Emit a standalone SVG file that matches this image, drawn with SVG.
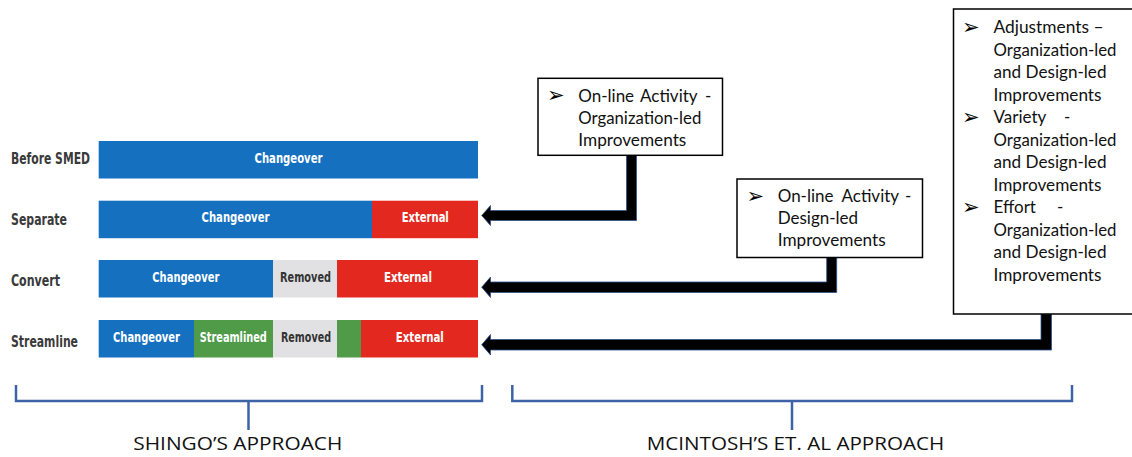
<svg xmlns="http://www.w3.org/2000/svg" width="1132" height="457" viewBox="0 0 1132 457">
<style>
.lbl{font-family:"Liberation Sans Narrow","DejaVu Sans Condensed","Liberation Sans",sans-serif;font-weight:bold;font-size:16px;fill:#3a3a3a;font-stretch:condensed}
.bt{font-family:"Liberation Sans Narrow","DejaVu Sans Condensed","Liberation Sans",sans-serif;font-weight:bold;font-size:14px;fill:#ffffff;text-anchor:middle;font-stretch:condensed}
.bt.dk{fill:#333333}
.blue{fill:#1570bf}
.red{fill:#e3291f}
.gray{fill:#e1e1e3}
.green{fill:#4f9b48}
.box{fill:#ffffff;stroke:#000000;stroke-width:1.5}
.tx{font-family:Lato,"Open Sans","Liberation Sans",sans-serif;font-size:17px;fill:#111111}
.bul{font-family:"DejaVu Sans",sans-serif;font-size:21px;fill:#000000}
.arr{fill:#000000;stroke:#2f528f;stroke-width:0.8;stroke-linejoin:miter}
.brk{fill:none;stroke:#3d63a6;stroke-width:2.5}
.cap{font-family:"Open Sans","Liberation Sans",sans-serif;font-size:18px;fill:#111111}
</style>

<g id="before-smed">
  <text class="lbl" x="11" y="164.3" textLength="79" lengthAdjust="spacingAndGlyphs">Before SMED</text>
  <rect class="blue" x="98.7" y="141" width="379.3" height="37.5"/>
  <text class="bt" x="288.5" y="162.7" textLength="68" lengthAdjust="spacingAndGlyphs">Changeover</text>
</g>

<g id="separate">
  <text class="lbl" x="11" y="225" textLength="56" lengthAdjust="spacingAndGlyphs">Separate</text>
  <rect class="blue" x="98.7" y="200.7" width="273.3" height="37.5"/>
  <rect class="red" x="372" y="200.7" width="106" height="37.5"/>
  <text class="bt" x="235.5" y="222.4" textLength="68" lengthAdjust="spacingAndGlyphs">Changeover</text>
  <text class="bt" x="425.3" y="222.4" textLength="47" lengthAdjust="spacingAndGlyphs">External</text>
</g>

<g id="convert">
  <text class="lbl" x="11" y="285.7" textLength="49" lengthAdjust="spacingAndGlyphs">Convert</text>
  <rect class="blue" x="98.7" y="260" width="174.3" height="37.5"/>
  <rect class="gray" x="273" y="260" width="64" height="37.5"/>
  <rect class="red" x="337" y="260" width="141" height="37.5"/>
  <text class="bt" x="185.8" y="281.7" textLength="67" lengthAdjust="spacingAndGlyphs">Changeover</text>
  <text class="bt dk" x="305.5" y="281.7" textLength="51" lengthAdjust="spacingAndGlyphs">Removed</text>
  <text class="bt" x="408" y="281.7" textLength="48" lengthAdjust="spacingAndGlyphs">External</text>
</g>

<g id="streamline">
  <text class="lbl" x="11" y="346.7" textLength="67" lengthAdjust="spacingAndGlyphs">Streamline</text>
  <rect class="blue" x="98.7" y="320" width="95.3" height="37.5"/>
  <rect class="green" x="194" y="320" width="79" height="37.5"/>
  <rect class="gray" x="273" y="320" width="64" height="37.5"/>
  <rect class="green" x="337" y="320" width="24" height="37.5"/>
  <rect class="red" x="361" y="320" width="117" height="37.5"/>
  <text class="bt" x="146.5" y="342" textLength="67" lengthAdjust="spacingAndGlyphs">Changeover</text>
  <text class="bt" x="233.3" y="342" textLength="67" lengthAdjust="spacingAndGlyphs">Streamlined</text>
  <text class="bt dk" x="306" y="342" textLength="50" lengthAdjust="spacingAndGlyphs">Removed</text>
  <text class="bt" x="419.8" y="342" textLength="48" lengthAdjust="spacingAndGlyphs">External</text>
</g>

<g id="connectors">
  <path class="arr" d="M626.5,155 H636.5 V220.5 H490.5 V225.5 L481.7,215.5 L490.5,205.5 V210.5 H626.5 Z"/>
  <path class="arr" d="M826.7,257.7 H836.7 V292.5 H490.5 V297.5 L481.7,287.2 L490.5,277 V282 H826.7 Z"/>
  <path class="arr" d="M1041,314 H1051.5 V350 H490.5 V355 L481.7,344.7 L490.5,334.5 V339.5 H1041 Z"/>
</g>

<g id="box-online-org">
  <rect class="box" x="538" y="78.3" width="184.5" height="77"/>
  <text class="bul" x="547" y="102">➢</text>
  <text class="tx" y="101.7"><tspan x="578.3">On-line</tspan><tspan x="640">Activity</tspan><tspan x="705">-</tspan></text>
  <text class="tx" x="578.3" y="124" textLength="123" lengthAdjust="spacingAndGlyphs">Organization-led</text>
  <text class="tx" x="578.3" y="146" textLength="108" lengthAdjust="spacingAndGlyphs">Improvements</text>
</g>

<g id="box-online-design">
  <rect class="box" x="737" y="179" width="185.5" height="78.5"/>
  <text class="bul" x="746.5" y="202.5">➢</text>
  <text class="tx" y="201.7"><tspan x="777.7">On-line</tspan><tspan x="841.5">Activity</tspan><tspan x="905">-</tspan></text>
  <text class="tx" x="777.7" y="224">Design-led</text>
  <text class="tx" x="777.7" y="246.2" textLength="108" lengthAdjust="spacingAndGlyphs">Improvements</text>
</g>

<g id="box-mcintosh">
  <rect class="box" x="953.5" y="9" width="190" height="305"/>
  <text class="bul" x="962" y="34">➢</text>
  <text class="tx" x="993.5" y="33.3" textLength="110" lengthAdjust="spacingAndGlyphs">Adjustments –</text>
  <text class="tx" x="993.5" y="55.8" textLength="123" lengthAdjust="spacingAndGlyphs">Organization-led</text>
  <text class="tx" x="993.5" y="78.3" textLength="113" lengthAdjust="spacingAndGlyphs">and Design-led</text>
  <text class="tx" x="993.5" y="100.8" textLength="108" lengthAdjust="spacingAndGlyphs">Improvements</text>
  <text class="bul" x="962" y="124">➢</text>
  <text class="tx" y="123.3"><tspan x="993.5">Variety</tspan><tspan x="1064">-</tspan></text>
  <text class="tx" x="993.5" y="145.8" textLength="123" lengthAdjust="spacingAndGlyphs">Organization-led</text>
  <text class="tx" x="993.5" y="168.3" textLength="113" lengthAdjust="spacingAndGlyphs">and Design-led</text>
  <text class="tx" x="993.5" y="190.8" textLength="108" lengthAdjust="spacingAndGlyphs">Improvements</text>
  <text class="bul" x="962" y="214">➢</text>
  <text class="tx" y="213.3"><tspan x="993.5">Effort</tspan><tspan x="1057">-</tspan></text>
  <text class="tx" x="993.5" y="235.8" textLength="123" lengthAdjust="spacingAndGlyphs">Organization-led</text>
  <text class="tx" x="993.5" y="258.3" textLength="113" lengthAdjust="spacingAndGlyphs">and Design-led</text>
  <text class="tx" x="993.5" y="280.8" textLength="108" lengthAdjust="spacingAndGlyphs">Improvements</text>
</g>

<g id="shingo-bracket">
  <path class="brk" d="M16,385 V401 H482 V385 M248.5,401 V430"/>
  <text class="cap" x="133.3" y="450" textLength="209" lengthAdjust="spacingAndGlyphs">SHINGO’S APPROACH</text>
</g>

<g id="mcintosh-bracket">
  <path class="brk" d="M512.3,385 V401 H1072 V385 M792,401 V430"/>
  <text class="cap" x="646.7" y="450" textLength="297.6" lengthAdjust="spacingAndGlyphs">MCINTOSH’S ET. AL APPROACH</text>
</g>
</svg>
